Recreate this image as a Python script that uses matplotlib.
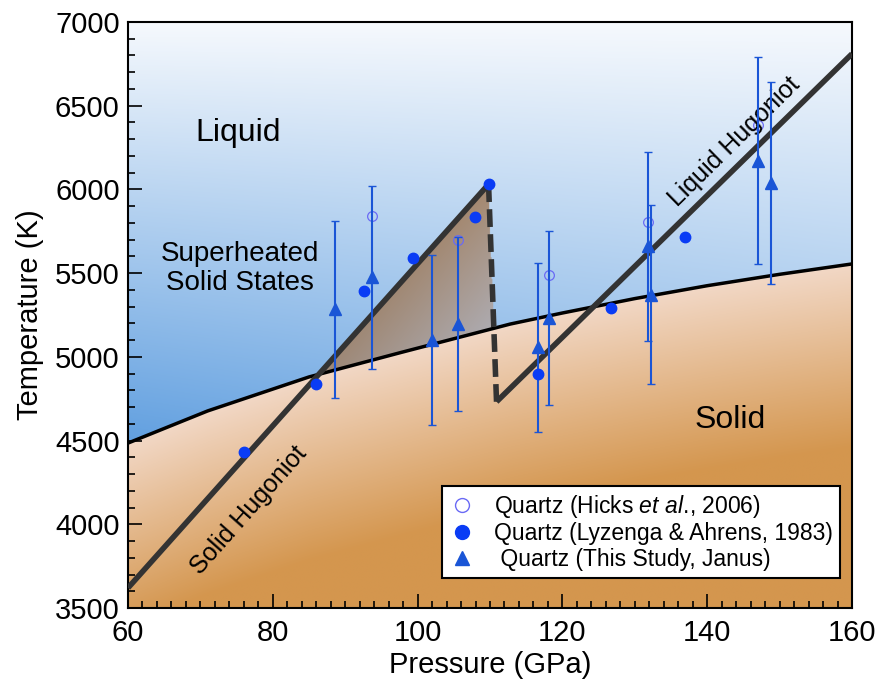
import numpy as np
import matplotlib
matplotlib.use("Agg")
from matplotlib import pyplot as plt
from matplotlib.lines import Line2D
from matplotlib.ticker import MultipleLocator

plt.rcParams['font.family'] = ['Liberation Sans', 'DejaVu Sans']
plt.rcParams['mathtext.fontset'] = 'custom'
plt.rcParams['mathtext.rm'] = 'Liberation Sans'
plt.rcParams['mathtext.it'] = 'Liberation Sans:italic'

# melting curve of quartz (P in GPa, T in K)
melt_p = [60, 71, 85, 97.6, 112.8, 120, 130, 140, 150, 160]
melt_t = [4485, 4677, 4880, 5025, 5196, 5262, 5348, 5425, 5493, 5555]

# Hugoniots
solid_hug_p = [60, 109.8]
solid_hug_t = [3620, 6031]
drop_p = [109.8, 110.9]
drop_t = [6031, 4732]
liquid_hug_p = [110.9, 160]
liquid_hug_t = [4732, 6810]

# Hicks et al. 2006
hicks_p = [93.75, 105.6, 118.1, 131.8, 147.0]
hicks_t = [5843, 5698, 5489, 5804, 6385]

# Lyzenga & Ahrens 1983
lyz_p = [76.0, 86.0, 92.55, 99.3, 107.9, 109.8, 116.6, 126.7, 137.0]
lyz_t = [4432, 4838, 5395, 5589, 5837, 6031, 4897, 5294, 5718]

# this study (Janus)
janus_p = [88.6, 93.75, 102.0, 105.6, 116.6, 118.1, 131.8, 132.2, 147.0, 148.8]
janus_t = [5283, 5476, 5098, 5194, 5056, 5233, 5660, 5372, 6172, 6038]
janus_err = [527, 547, 508, 520, 504, 521, 565, 537, 617, 603]

xmin, xmax, ymin, ymax = 60, 160, 3500, 7000

fig = plt.figure(figsize=(8.78, 6.88), dpi=100)
ax = fig.add_axes([0.1458, 0.1163, 0.8246, 0.8517])

# background shading: liquid above the melting curve, solid below
nx, ny = 900, 700
P, T = np.meshgrid(np.linspace(xmin, xmax, nx), np.linspace(ymin, ymax, ny))
v = (P - xmin) / (xmax - xmin)
tm = np.interp(P, melt_p, melt_t)

s = np.clip((ymax - T) / 2500.0 * (1 - 0.3 * v), 0, 1)[..., None]
white = np.array([246, 249, 253]) / 255
blue = np.array([98, 160, 224]) / 255
liq = white * (1 - s) + blue * s

d = np.clip((tm - T) / 1100.0, 0, 1)[..., None]
peach = np.array([242, 216, 198]) / 255
orange = np.array([212, 150, 78]) / 255
sol = peach * (1 - d) + orange * d

img = np.where((T > tm)[..., None], liq, sol)

# superheated solid region between solid Hugoniot, melt curve and the drop
hug = np.interp(P, solid_hug_p, solid_hug_t)
drop_x = np.interp(T, drop_t[::-1], drop_p[::-1])
region = (T < hug) & (T > tm) & (P < drop_x)
g = np.clip((P - 85) / 25.0 - (T - 4900) / 1100.0, 0, 1)[..., None]
brown = np.array([160, 124, 92]) / 255
grey = np.array([182, 180, 188]) / 255
shade = brown * (1 - g) + grey * g
img = np.where(region[..., None], shade * 0.85 + img * 0.15, img)

ax.imshow(img, extent=[xmin, xmax, ymin, ymax], origin='lower', aspect='auto',
          interpolation='bilinear', zorder=0)

ax.plot(melt_p, melt_t, color='black', lw=2.5, zorder=2)
ax.plot(solid_hug_p, solid_hug_t, color='#333333', lw=4, zorder=3,
        solid_capstyle='butt')
ax.plot(drop_p, drop_t, color='#333333', lw=4, ls=(0, (3.2, 1.3)), zorder=3)
ax.plot(liquid_hug_p, liquid_hug_t, color='#333333', lw=4, zorder=3,
        solid_capstyle='butt')

tri_color = '#1a55d6'
dot_color = '#0a3cf5'
ring_color = '#6a6af5'
ax.plot(hicks_p, hicks_t, 'o', mfc='none', mec=ring_color, mew=0.9, ms=7,
        zorder=2.5)
ax.errorbar(janus_p, janus_t, yerr=janus_err, fmt='^', color=tri_color,
            ms=9, elinewidth=1.5, capsize=3, capthick=1, zorder=4)
ax.plot(lyz_p, lyz_t, 'o', color=dot_color, ms=7.5, zorder=5)

ax.text(75.2, 6337, 'Liquid', fontsize=23, ha='center', va='center')
ax.text(75.5, 5530, 'Superheated\nSolid States', fontsize=20, ha='center',
        va='center', linespacing=1.15)
ax.text(143.2, 4623, 'Solid', fontsize=23, ha='center', va='center')
ax.text(76.7, 4085, 'Solid Hugoniot', fontsize=18, ha='center', va='center',
        rotation=48.5)
ax.text(143.8, 6283, 'Liquid Hugoniot', fontsize=18, ha='center', va='center',
        rotation=44.5)

handles = [
    Line2D([], [], ls='none', marker='o', mfc='none', mec=ring_color,
           mew=1.0, ms=10),
    Line2D([], [], ls='none', marker='o', color=dot_color, ms=10),
    Line2D([], [], ls='none', marker='^', color=tri_color, ms=10),
]
labels = [r'Quartz (Hicks $\it{et\ al.}\!$, 2006)',
          'Quartz (Lyzenga & Ahrens, 1983)',
          ' Quartz (This Study, Janus)']
leg = ax.legend(handles, labels, loc='lower right',
                bbox_to_anchor=(0.9835, 0.052), fontsize=16.5, frameon=True,
                fancybox=False, framealpha=1, edgecolor='black',
                handlelength=1.2, handletextpad=0.8, borderpad=0.3,
                labelspacing=0.1, borderaxespad=0)
leg.get_frame().set_linewidth(1.5)

ax.set_xlim(xmin, xmax)
ax.set_ylim(ymin, ymax)
ax.xaxis.set_major_locator(MultipleLocator(20))
ax.xaxis.set_minor_locator(MultipleLocator(2))
ax.yaxis.set_major_locator(MultipleLocator(500))
ax.yaxis.set_minor_locator(MultipleLocator(100))
ax.tick_params(which='both', direction='in', top=False, right=False,
               labelsize=21, width=1.2)
ax.tick_params(axis='x', pad=8)
ax.tick_params(axis='y', pad=6)
ax.tick_params(which='major', length=10)
ax.tick_params(which='minor', length=5)
for sp in ax.spines.values():
    sp.set_linewidth(1.5)

ax.set_xlabel('Pressure (GPa)', fontsize=21, labelpad=3)
ax.set_ylabel('Temperature (K)', fontsize=21, labelpad=8)

fig.savefig('out.png', dpi=100)
